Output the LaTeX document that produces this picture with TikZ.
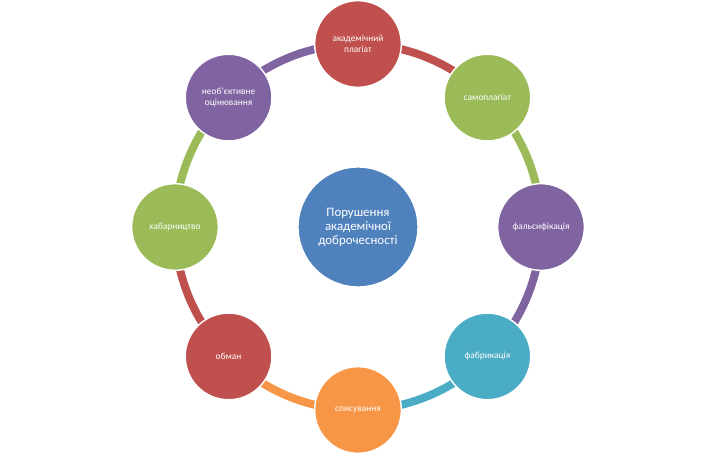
\documentclass[tikz,border=0pt]{standalone}
\usepackage{fontspec}
\setmainfont{Carlito}
\usetikzlibrary{positioning,calc}
\definecolor{cblue}{HTML}{4F81BD}
\definecolor{cred}{HTML}{C0504D}
\definecolor{cgreen}{HTML}{9BBB59}
\definecolor{cpurple}{HTML}{8064A2}
\definecolor{cteal}{HTML}{4BACC6}
\definecolor{corange}{HTML}{F79646}

\begin{document}
\begin{tikzpicture}[x=0.03cm,y=-0.03cm]
  \tikzstyle{item}=[circle,draw=white,line width=1.2pt,minimum size=2.6cm,inner sep=1pt,
    text=white,align=center,font=\fontsize{8}{9}\selectfont]
  \tikzstyle{ring}=[line width=0.24cm]
  \useasboundingbox (0,0) rectangle (720,453);

  \coordinate (c) at (358,227);
  % ring segments
  \foreach \a/\col in {90/cred,45/cgreen,0/cpurple,-45/cteal,-90/corange,-135/cred,180/cgreen,135/cpurple}
    \draw[ring,\col] ($(c)+(\a:5.49cm)$) arc[start angle=\a,end angle=\a-45,radius=5.49cm];

  \node[item,fill=cblue,minimum size=3.6cm,font=\fontsize{11}{12}\selectfont] (main) at (c) {Порушення\\академічної\\доброчесності};
  \node[item,fill=cred] (plag) at ($(c)+(90:5.49cm)$) {академічний\\плагіат};
  \node[item,fill=cgreen] (self) at ($(c)+(45:5.49cm)$) {самоплагіат};
  \node[item,fill=cpurple] (fals) at ($(c)+(0:5.49cm)$) {фальсифікація};
  \node[item,fill=cteal] (fabr) at ($(c)+(-45:5.49cm)$) {фабрикація};
  \node[item,fill=corange] (copy) at ($(c)+(-90:5.49cm)$) {списування};
  \node[item,fill=cred] (lie) at ($(c)+(-135:5.49cm)$) {обман};
  \node[item,fill=cgreen] (brib) at ($(c)+(180:5.49cm)$) {хабарництво};
  \node[item,fill=cpurple] (eval) at ($(c)+(135:5.49cm)$) {необ’єктивне\\оцінювання};
\end{tikzpicture}
\end{document}
